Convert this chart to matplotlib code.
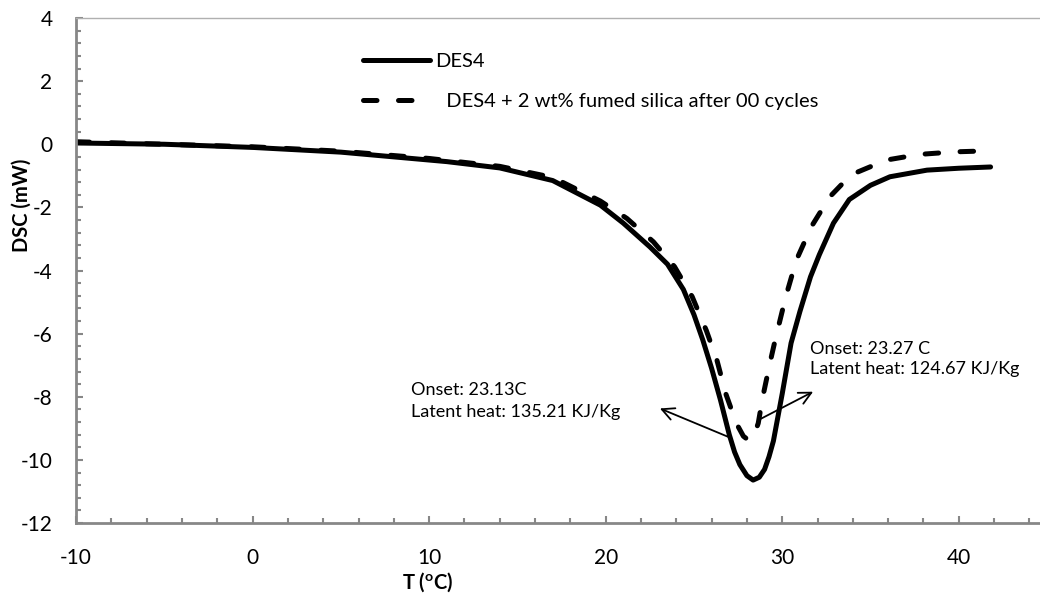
import matplotlib
matplotlib.use("Agg")
import matplotlib.pyplot as plt
from matplotlib.ticker import MultipleLocator

plt.rcParams['font.family'] = ['Lato', 'DejaVu Sans']
plt.rcParams['axes.unicode_minus'] = False

# DES4 (solid)
t_des4 = [-10, -5, 0, 5, 8, 11, 14, 17, 19.7, 21, 22.5, 23.5, 24.4, 25.0, 25.5, 26.0,
          26.5, 27.0, 27.3, 27.6, 28.0, 28.35, 28.7, 29.0, 29.25, 29.5, 30.0, 30.5,
          31.0, 31.6, 32.1, 32.9, 33.8, 35.0, 36.1, 38.2, 40.0, 41.8]
dsc_des4 = [0.04, 0.0, -0.1, -0.25, -0.4, -0.55, -0.75, -1.15, -1.93, -2.5, -3.25, -3.8,
            -4.6, -5.4, -6.2, -7.1, -8.1, -9.2, -9.75, -10.15, -10.5, -10.64, -10.55,
            -10.3, -9.9, -9.4, -7.9, -6.3, -5.3, -4.2, -3.5, -2.5, -1.75, -1.3, -1.03,
            -0.82, -0.76, -0.72]

# DES4 + 2 wt% fumed silica (dashed)
t_silica = [-10, -5, 0, 5, 10, 14, 17, 19.7, 21.2, 22.7, 23.9, 24.9, 25.7, 26.3, 26.8,
            27.4, 27.8, 28.1, 28.35, 28.64, 28.9, 29.3, 29.6, 30.2, 30.8, 31.65, 32.7,
            33.7, 34.1, 35.9, 37.8, 39.8, 41.6]
dsc_silica = [0.08, 0.0, -0.08, -0.22, -0.45, -0.7, -1.05, -1.8, -2.35, -3.09, -3.88,
              -4.83, -5.9, -6.84, -7.9, -8.84, -9.25, -9.38, -9.3, -8.84, -8.0, -6.94,
              -6.2, -4.83, -3.67, -2.61, -1.66, -1.08, -0.92, -0.5, -0.32, -0.24, -0.21]

label_des4 = "DES4"
label_silica = "  DES4 + 2 wt% fumed silica after 00 cycles"
note_left = "Onset: 23.13C\nLatent heat: 135.21 KJ/Kg"
note_right = "Onset: 23.27 C\nLatent heat: 124.67 KJ/Kg"

fig = plt.figure(figsize=(10.4, 5.94), dpi=100)
ax = fig.add_axes([0.0731, 0.1195, 0.9337, 0.8502])

ax.plot(t_des4, dsc_des4, color='black', lw=3.6, solid_joinstyle='round',
        solid_capstyle='round', label=label_des4)
ax.plot(t_silica, dsc_silica, color='black', lw=3.6, dashes=(2.7, 4.3),
        dash_capstyle='round', dash_joinstyle='round', label=label_silica)

ax.set_xlim(-10, 45)
ax.set_ylim(-12, 4)
ax.xaxis.set_major_locator(MultipleLocator(10))
ax.xaxis.set_minor_locator(MultipleLocator(2))
ax.yaxis.set_major_locator(MultipleLocator(2))
ax.yaxis.set_minor_locator(MultipleLocator(0.4))

grey = '#878787'
for s in ['left', 'bottom']:
    ax.spines[s].set_color(grey)
    ax.spines[s].set_linewidth(2)
ax.spines['top'].set_color('#b0b0b0')
ax.spines['top'].set_linewidth(1)
ax.spines['top'].set_linestyle((0, (2, 1)))
ax.spines['right'].set_visible(False)

ax.tick_params(which='both', direction='in', color=grey, width=1.5,
               labelsize=15, labelcolor='black')
ax.tick_params(which='major', length=5)
ax.tick_params(which='minor', length=3.5)
ax.tick_params(axis='y', which='major', pad=17)
ax.tick_params(axis='x', which='major', pad=18)

ax.set_ylabel('DSC (mW)', fontsize=14.5, fontweight='bold')
ax.yaxis.set_label_coords(-0.046, 0.63)
ax.set_xlabel('T ($^{\\mathregular{o}}$C)', fontsize=14.5, fontweight='bold')
ax.xaxis.set_label_coords(0.3625, -0.093)

leg = ax.legend(loc='upper left', bbox_to_anchor=(0.279, 0.962), frameon=False,
                fontsize=14.5, handlelength=3.3, handletextpad=0.3,
                labelspacing=1.1, borderpad=0.3)

ax.annotate('', xy=(23.07, -8.37), xytext=(26.94, -9.27),
            arrowprops=dict(arrowstyle='->', color='black', lw=1.3,
                            mutation_scale=22, shrinkA=0, shrinkB=0))
ax.annotate('', xy=(31.75, -7.84), xytext=(28.64, -8.74),
            arrowprops=dict(arrowstyle='->', color='black', lw=1.3,
                            mutation_scale=22, shrinkA=0, shrinkB=0))
ax.text(9.0, -8.13, note_left, fontsize=13, va='center', ha='left',
        linespacing=1.45)
ax.text(31.56, -6.8, note_right, fontsize=13, va='center', ha='left',
        linespacing=1.35)

fig.savefig('out.png', dpi=100)
